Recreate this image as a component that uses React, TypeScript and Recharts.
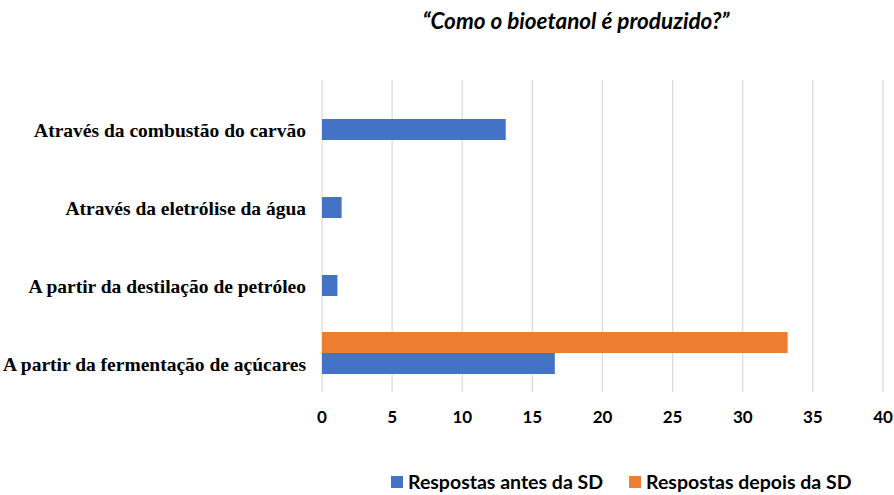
import { BarChart, Bar, XAxis, YAxis, CartesianGrid } from "recharts";

const CATEGORIES = [
  "Através da combustão do carvão",
  "Através da eletrólise da água",
  "A partir da destilação de petróleo",
  "A partir da fermentação de açúcares",
];
const ANTES = [13.1, 1.4, 1.1, 16.6];
const DEPOIS = [0, 0, 0, 33.2];
const X_TICKS = [0, 5, 10, 15, 20, 25, 30, 35, 40];

const TITLE = "“Como o bioetanol é produzido?”";
const LABEL_ANTES = "Respostas antes da SD";
const LABEL_DEPOIS = "Respostas depois da SD";

const BLUE = "#4472C4";
const ORANGE = "#ED7D31";

const data = CATEGORIES.map((name, i) => ({ name, antes: ANTES[i], depois: DEPOIS[i] }));

const sans = "Lato, 'Open Sans', sans-serif";

// labels sit level with the blue bar, a bit under the band centre
function CategoryTick(props: any) {
  const { x, y, payload } = props;
  return (
    <text
      x={x}
      y={y + 11}
      dy="0.35em"
      textAnchor="end"
      fontFamily="'Liberation Serif', serif"
      fontWeight={700}
      fontSize={19.5}
      fill="#000"
    >
      {payload.value}
    </text>
  );
}

export default function App() {
  return (
    <div style={{ position: "absolute", left: 0, top: 0, width: 894, height: 495, background: "#fff" }}>
      <div
        style={{
          position: "absolute",
          left: 0,
          width: 894,
          top: 7,
          paddingLeft: 258,
          boxSizing: "border-box",
          textAlign: "center",
          fontFamily: sans,
          fontStyle: "italic",
          fontWeight: 700,
          fontSize: 22.5,
          color: "#000",
        }}
      >
        {TITLE}
      </div>
      <BarChart
        width={894}
        height={495}
        data={data}
        layout="vertical"
        margin={{ top: 80, right: 11, bottom: 63, left: 12 }}
        barSize={21}
        barGap={0}
      >
        <CartesianGrid horizontal={false} stroke="#d9d9d9" strokeWidth={1.2} />
        <XAxis
          type="number"
          domain={[0, 40]}
          ticks={X_TICKS}
          axisLine={false}
          tickLine={false}
          tickMargin={13}
          height={40}
          tick={{ fontSize: 17, fontWeight: 700, fill: "#000", fontFamily: sans }}
        />
        <YAxis
          type="category"
          dataKey="name"
          width={310}
          axisLine={false}
          tickLine={false}
          tickMargin={10}
          tick={<CategoryTick />}
        />
        <Bar dataKey="depois" fill={ORANGE} isAnimationActive={false} />
        <Bar dataKey="antes" fill={BLUE} isAnimationActive={false} />
      </BarChart>
      <div
        style={{
          position: "absolute",
          top: 470,
          left: 391,
          display: "flex",
          alignItems: "center",
          fontFamily: sans,
          fontWeight: 700,
          fontSize: 19.5,
          color: "#000",
          whiteSpace: "nowrap",
        }}
      >
        <span style={{ width: 12, height: 12, background: BLUE, display: "inline-block", marginRight: 5 }} />
        <span>{LABEL_ANTES}</span>
        <span style={{ width: 12, height: 12, background: ORANGE, display: "inline-block", marginLeft: 26, marginRight: 5 }} />
        <span>{LABEL_DEPOIS}</span>
      </div>
    </div>
  );
}
